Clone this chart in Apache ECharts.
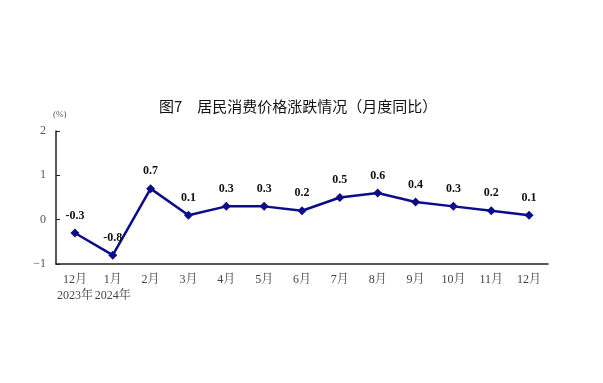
<!DOCTYPE html>
<html><head><meta charset="utf-8">
<script src="https://cdn.jsdelivr.net/npm/echarts@6/dist/echarts.min.js"></script>
<style>html,body{margin:0;padding:0;background:#fff}#c{width:603px;height:383px}</style>
</head><body><div id="c"></div>
<script>
const categories = ['12月\n2023年','1月\n2024年','2月','3月','4月','5月','6月','7月','8月','9月','10月','11月','12月'];
const cpiYoY = [-0.3,-0.8,0.7,0.1,0.3,0.3,0.2,0.5,0.6,0.4,0.3,0.2,0.1];
const yTicks = [-1,0,1,2];
const titleText = '图7　居民消费价格涨跌情况（月度同比）';
const unitText = '(%)';

const serif = '"Liberation Serif","Noto Serif CJK SC","Noto Sans CJK SC",serif';
const chart = echarts.init(document.getElementById('c'));
chart.setOption({
  backgroundColor:'#fff',
  animation:false,
  title:{text:titleText,left:154,top:94,textStyle:{fontFamily:'"Noto Sans CJK SC",sans-serif',fontSize:15,fontWeight:'normal',color:'#111'}},
  graphic:[{type:'text',left:53,top:110,style:{text:unitText,font:'9px '+serif,fill:'#555'}}],
  grid:{left:56,right:55,top:131,bottom:119},
  xAxis:{type:'category',data:categories,boundaryGap:true,
    axisLine:{onZero:false,lineStyle:{color:'#222',width:1.5}},
    axisTick:{inside:true,length:4,alignWithLabel:false,lineStyle:{color:'#222'}},
    axisLabel:{fontFamily:serif,fontSize:12,color:'#444',margin:8,lineHeight:16,interval:0}},
  yAxis:{type:'value',min:yTicks[0],max:yTicks[yTicks.length-1],interval:1,
    splitLine:{show:false},
    axisLine:{show:true,lineStyle:{color:'#222',width:1.5}},
    axisTick:{show:true,inside:true,length:4,lineStyle:{color:'#222'}},
    axisLabel:{fontFamily:serif,fontSize:12,color:'#555',margin:10,formatter:v=>v<0?'−'+Math.abs(v):String(v)}},
  series:[{type:'line',data:cpiYoY,symbol:'diamond',symbolSize:9,
    lineStyle:{color:'#0c0c8a',width:2.5},itemStyle:{color:'#0c0c8a'},
    label:{show:true,position:'top',distance:7,fontFamily:serif,fontSize:12,fontWeight:'bold',color:'#111',
      formatter:p=>p.value.toFixed(1)}}]
});
</script></body></html>
